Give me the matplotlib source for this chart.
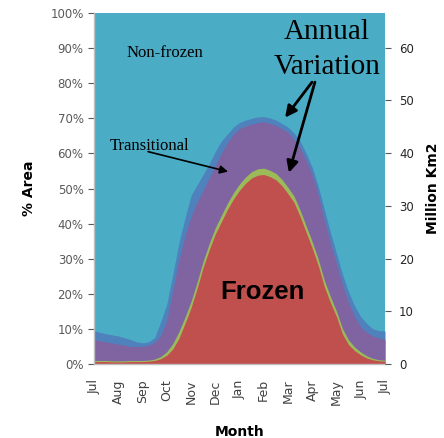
import matplotlib
matplotlib.use("Agg")
import matplotlib.pyplot as plt
from matplotlib.ticker import FuncFormatter

# month position (0 = Jul ... 12 = next Jul), quarter-month steps
months = [i / 4 for i in range(49)]

# top of each stacked layer, % of area
frozen_top = [0.7, 0.7, 0.7, 0.6, 0.6, 0.6, 0.7, 0.7, 0.7, 0.8, 1.0, 1.5,
              2.5, 4.3, 7.3, 11.5, 16, 21.5, 27.5, 32.5, 37, 40.5, 44, 47,
              49.5, 51.5, 53, 53.8, 54, 53.4, 52.5, 50.8, 48.5, 46, 42, 37.5,
              33, 28, 22, 17.5, 13.5, 8.5, 5.5, 3.8, 2.6, 1.7, 1.2, 0.9, 0.8]
var_low_top = [1.0, 1.0, 1.0, 0.9, 0.9, 0.9, 1.0, 1.0, 1.0, 1.1, 1.4, 2.1,
               3.5, 5.8, 9.2, 13.3, 17.8, 23.3, 29.3, 34.3, 38.8, 42.3, 45.8,
               48.8, 51.3, 53.3, 54.8, 55.6, 55.8, 55.2, 54.3, 52.6, 50.3,
               47.8, 43.8, 39.3, 34.8, 29.8, 23.8, 19.2, 15, 10, 6.8, 4.8,
               3.4, 2.3, 1.6, 1.2, 1.1]
trans_top = [7, 6.6, 6.3, 6.0, 5.6, 5.4, 5.0, 5.0, 5.0, 5.3, 6.2, 8, 12.5,
             21, 29.5, 36.5, 42, 46, 49.5, 53, 56.5, 60, 63, 65.5, 67, 67.8,
             68.3, 68.8, 69, 68.6, 68, 67, 66, 64, 61.5, 58, 54, 48, 41, 34.5,
             28.5, 22.5, 17.5, 13.5, 10.5, 9, 8, 7.4, 7]
var_high_top = [9.5, 9, 8.6, 8.3, 8, 7.5, 7, 6.3, 6, 6.3, 7.5, 12, 17, 25.5,
                34.5, 41.5, 48, 51, 54, 57, 60.5, 63.5, 65.5, 67.5, 68.8, 69.5,
                70, 70.4, 70.5, 70.1, 69.5, 68.5, 67.5, 65.8, 63.5, 60, 56,
                50.5, 44, 37.5, 31.5, 25.5, 20.5, 16.5, 13.5, 11.5, 10, 9.5,
                9.4]
month_labels = ["Jul", "Aug", "Sep", "Oct", "Nov", "Dec", "Jan", "Feb", "Mar",
                "Apr", "May", "Jun", "Jul"]

fig = plt.figure(figsize=(4.44, 4.38), dpi=100)
ax = fig.add_axes([94 / 444, 74 / 438, 291 / 444, 351 / 438])

ax.fill_between(months, 0, 100, color="#4BACC6", lw=0)
ax.fill_between(months, 0, var_high_top, color="#4F81BD", lw=0)
ax.fill_between(months, 0, trans_top, color="#8064A2", lw=0)
ax.fill_between(months, 0, var_low_top, color="#9BBB59", lw=0)
ax.fill_between(months, 0, frozen_top, color="#C0504D", lw=0)

ax.set_xlim(0, 12)
ax.set_ylim(0, 100)
ax.set_yticks(range(0, 101, 10))
ax.yaxis.set_major_formatter(FuncFormatter(lambda v, p: f"{v:.0f}%"))
ax.set_xticks(range(13))
ax.set_xticklabels(month_labels, rotation=90)
ax.tick_params(axis="y", colors="#595959", labelsize=8.5, length=4, width=0.8,
               labelcolor="#595959")
ax.tick_params(axis="x", length=0, labelsize=9, labelcolor="#404040", pad=11)
for s in ["top", "right"]:
    ax.spines[s].set_visible(False)
for s in ["left", "bottom"]:
    ax.spines[s].set_color("#BFBFBF")
    ax.spines[s].set_linewidth(1.0)
ax.set_ylabel("% Area", fontsize=10, fontweight="bold", labelpad=10)
ax.set_xlabel("Month", fontsize=10, fontweight="bold", labelpad=14)

ax2 = ax.twinx()
ax2.set_ylim(0, 66.6)
ax2.set_yticks(range(0, 61, 10))
ax2.tick_params(axis="y", colors="#595959", labelsize=8.5, length=4, width=0.8,
                labelcolor="#262626", pad=6)
for s in ax2.spines.values():
    s.set_visible(False)
ax2.set_ylabel("Million Km2", fontsize=10, fontweight="bold", labelpad=9)

serif = "Liberation Serif"
ax.text(2.93, 88.6, "Non-frozen", family=serif, fontsize=12, ha="center",
        va="center")
ax.text(0.66, 62.2, "Transitional", family=serif, fontsize=12, ha="left",
        va="center")
ax.annotate("", xy=(5.53, 54.8), xytext=(2.23, 60.5),
            arrowprops=dict(arrowstyle="-|>", color="black", lw=1.2,
                            mutation_scale=12, shrinkA=0, shrinkB=0))
ax.text(9.6, 94.6, "Annual", family=serif, fontsize=21, ha="center",
        va="center")
ax.text(9.6, 84.7, "Variation", family=serif, fontsize=21, ha="center",
        va="center")
ax.annotate("", xy=(7.88, 70.2), xytext=(8.99, 80.3),
            arrowprops=dict(arrowstyle="-|>", color="black", lw=2,
                            mutation_scale=17, shrinkA=0, shrinkB=0))
ax.annotate("", xy=(8.04, 54.5), xytext=(9.11, 80.3),
            arrowprops=dict(arrowstyle="-|>", color="black", lw=2,
                            mutation_scale=17, shrinkA=0, shrinkB=0))
ax.text(6.93, 20.5, "Frozen", family="Liberation Sans", fontsize=18.5,
        fontweight="bold", ha="center", va="center")

fig.savefig("out.png", dpi=100)
